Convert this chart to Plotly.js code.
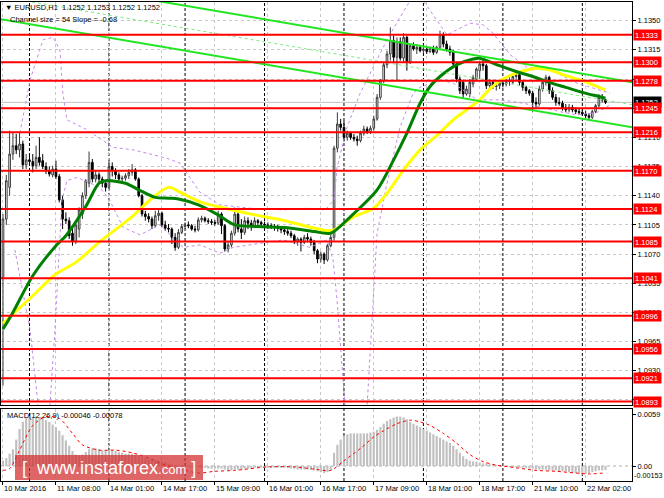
<!DOCTYPE html>
<html><head><meta charset="utf-8">
<script src="https://cdn.plot.ly/plotly-3.0.1.min.js"></script>
<style>html,body{margin:0;padding:0;background:#fff}#c{width:664px;height:498px}</style>
</head><body><div id="c"></div>
<script>
// ---- EURUSD H1 candles (10 Mar 16:00 .. 22 Mar 2016) ----
const open = [
1.1042,1.1112,1.1150,1.1190,1.1200,1.1195,1.1202,1.1177,1.1183,1.1181,
1.1176,1.1186,1.1182,1.1175,1.1170,1.1165,1.1172,1.1163,1.1135,1.1112,
1.1110,1.1095,1.1085,1.1100,1.1118,1.1140,1.1155,1.1180,1.1160,1.1165,
1.1160,1.1155,1.1150,1.1175,1.1170,1.1165,1.1160,1.1161,1.1164,1.1168,
1.1171,1.1160,1.1140,1.1118,1.1115,1.1112,1.1104,1.1116,1.1119,1.1105,
1.1101,1.1100,1.1090,1.1078,1.1096,1.1103,1.1105,1.1104,1.1100,1.1099,
1.1111,1.1113,1.1110,1.1109,1.1108,1.1107,1.1118,1.1104,1.1076,1.1081,
1.1095,1.1118,1.1100,1.1096,1.1110,1.1107,1.1104,1.1110,1.1108,1.1106,
1.1105,1.1104,1.1103,1.1102,1.1101,1.1099,1.1097,1.1095,1.1092,1.1085,
1.1088,1.1084,1.1090,1.1088,1.1084,1.1074,1.1064,1.1070,1.1063,1.1080,
1.1090,1.1197,1.1226,1.1222,1.1210,1.1215,1.1210,1.1208,1.1206,1.1215,
1.1220,1.1217,1.1221,1.1232,1.1258,1.1278,1.1297,1.1310,1.1326,1.1306,
1.1325,1.1305,1.1330,1.1300,1.1320,1.1316,1.1318,1.1314,1.1316,1.1313,
1.1317,1.1312,1.1318,1.1333,1.1322,1.1316,1.1312,1.1298,1.1280,1.1276,
1.1262,1.1262,1.1274,1.1280,1.1290,1.1298,1.1296,1.1272,1.1276,1.1271,
1.1272,1.1275,1.1274,1.1277,1.1276,1.1283,1.1285,1.1276,1.1270,1.1266,
1.1263,1.1252,1.1250,1.1268,1.1276,1.1282,1.1266,1.1258,1.1252,1.1251,
1.1245,1.1243,1.1246,1.1243,1.1241,1.1240,1.1238,1.1236,1.1234,1.1241,
1.1248,1.1258,1.1255];
const high = [
1.1118,1.1165,1.1218,1.1216,1.1214,1.1216,1.1206,1.1190,1.1188,1.1190,
1.1200,1.1210,1.1190,1.1180,1.1175,1.1176,1.1182,1.1166,1.1140,1.1120,
1.1114,1.1102,1.1108,1.1126,1.1144,1.1160,1.1193,1.1184,1.1170,1.1168,
1.1163,1.1158,1.1183,1.1180,1.1173,1.1168,1.1164,1.1167,1.1172,1.1178,
1.1173,1.1162,1.1142,1.1122,1.1119,1.1115,1.1122,1.1124,1.1121,1.1110,
1.1106,1.1102,1.1095,1.1100,1.1106,1.1108,1.1109,1.1106,1.1104,1.1114,
1.1116,1.1115,1.1113,1.1112,1.1111,1.1122,1.1120,1.1106,1.1085,1.1098,
1.1126,1.1122,1.1112,1.1115,1.1114,1.1111,1.1114,1.1112,1.1110,1.1109,
1.1108,1.1107,1.1106,1.1105,1.1103,1.1102,1.1100,1.1098,1.1094,1.1090,
1.1090,1.1093,1.1095,1.1091,1.1087,1.1076,1.1073,1.1072,1.1082,1.1093,
1.1200,1.1240,1.1232,1.1230,1.1218,1.1217,1.1214,1.1212,1.1218,1.1224,
1.1223,1.1224,1.1236,1.1262,1.1280,1.1300,1.1314,1.1342,1.1332,1.1330,
1.1330,1.1335,1.1332,1.1322,1.1324,1.1322,1.1321,1.1320,1.1319,1.1319,
1.1320,1.1320,1.1338,1.1336,1.1326,1.1320,1.1315,1.1300,1.1283,1.1279,
1.1272,1.1280,1.1285,1.1294,1.1302,1.1305,1.1298,1.1280,1.1278,1.1276,
1.1278,1.1278,1.1280,1.1282,1.1285,1.1288,1.1287,1.1278,1.1272,1.1268,
1.1266,1.1258,1.1272,1.1280,1.1285,1.1284,1.1270,1.1262,1.1258,1.1254,
1.1250,1.1250,1.1249,1.1246,1.1245,1.1243,1.1242,1.1239,1.1243,1.1250,
1.1262,1.1262,1.1256];
const low = [
1.0912,1.1105,1.1140,1.1183,1.1190,1.1186,1.1172,1.1172,1.1176,1.1168,
1.1172,1.1176,1.1172,1.1166,1.1163,1.1162,1.1160,1.1132,1.1100,1.1106,
1.1088,1.1080,1.1082,1.1090,1.1112,1.1136,1.1150,1.1156,1.1156,1.1155,
1.1150,1.1145,1.1148,1.1163,1.1160,1.1158,1.1157,1.1158,1.1160,1.1164,
1.1158,1.1138,1.1115,1.1110,1.1108,1.1100,1.1102,1.1110,1.1102,1.1098,
1.1096,1.1082,1.1074,1.1076,1.1094,1.1100,1.1101,1.1098,1.1096,1.1097,
1.1108,1.1108,1.1106,1.1105,1.1104,1.1105,1.1094,1.1073,1.1072,1.1078,
1.1092,1.1096,1.1088,1.1093,1.1100,1.1098,1.1101,1.1104,1.1102,1.1102,
1.1100,1.1100,1.1098,1.1097,1.1095,1.1093,1.1092,1.1089,1.1082,1.1080,
1.1073,1.1082,1.1084,1.1080,1.1070,1.1059,1.1060,1.1058,1.1061,1.1078,
1.1086,1.1192,1.1218,1.1205,1.1206,1.1207,1.1205,1.1200,1.1204,1.1212,
1.1214,1.1214,1.1218,1.1230,1.1255,1.1275,1.1293,1.1302,1.1300,1.1278,
1.1302,1.1300,1.1290,1.1298,1.1314,1.1310,1.1312,1.1311,1.1310,1.1311,
1.1309,1.1310,1.1316,1.1318,1.1313,1.1308,1.1295,1.1276,1.1262,1.1256,
1.1260,1.1258,1.1270,1.1277,1.1280,1.1290,1.1268,1.1268,1.1268,1.1266,
1.1268,1.1270,1.1271,1.1272,1.1274,1.1278,1.1272,1.1266,1.1262,1.1260,
1.1241,1.1244,1.1248,1.1265,1.1272,1.1262,1.1255,1.1248,1.1248,1.1242,
1.1240,1.1240,1.1240,1.1238,1.1237,1.1236,1.1233,1.1231,1.1232,1.1239,
1.1246,1.1252,1.1250];
const close = [
1.1112,1.1158,1.1190,1.1200,1.1195,1.1202,1.1177,1.1183,1.1181,1.1176,
1.1186,1.1180,1.1175,1.1170,1.1166,1.1172,1.1163,1.1135,1.1112,1.1110,
1.1092,1.1085,1.1105,1.1123,1.1140,1.1158,1.1180,1.1160,1.1165,1.1160,
1.1155,1.1150,1.1175,1.1170,1.1165,1.1160,1.1161,1.1164,1.1168,1.1171,
1.1160,1.1140,1.1118,1.1115,1.1112,1.1104,1.1116,1.1119,1.1105,1.1101,
1.1100,1.1090,1.1078,1.1096,1.1103,1.1105,1.1104,1.1100,1.1099,1.1111,
1.1113,1.1110,1.1109,1.1108,1.1107,1.1118,1.1104,1.1076,1.1081,1.1095,
1.1118,1.1100,1.1096,1.1110,1.1107,1.1104,1.1110,1.1108,1.1106,1.1105,
1.1104,1.1103,1.1102,1.1101,1.1099,1.1097,1.1095,1.1092,1.1085,1.1088,
1.1084,1.1090,1.1088,1.1084,1.1074,1.1064,1.1070,1.1063,1.1080,1.1090,
1.1197,1.1226,1.1222,1.1210,1.1215,1.1210,1.1208,1.1206,1.1215,1.1220,
1.1217,1.1221,1.1232,1.1258,1.1278,1.1297,1.1310,1.1326,1.1306,1.1325,
1.1305,1.1330,1.1300,1.1320,1.1316,1.1318,1.1314,1.1316,1.1313,1.1317,
1.1312,1.1318,1.1333,1.1322,1.1316,1.1312,1.1298,1.1280,1.1266,1.1262,
1.1268,1.1276,1.1282,1.1292,1.1298,1.1296,1.1272,1.1276,1.1271,1.1272,
1.1275,1.1274,1.1277,1.1279,1.1283,1.1285,1.1276,1.1270,1.1266,1.1263,
1.1252,1.1250,1.1268,1.1276,1.1282,1.1266,1.1258,1.1252,1.1251,1.1245,
1.1243,1.1246,1.1243,1.1241,1.1240,1.1238,1.1236,1.1234,1.1241,1.1248,
1.1258,1.1255,1.1252];

// ---- moving averages (at bar indices) ----
const maGreenIdx = [0,3,9,16,19,25,29,31,37,41,46,50,53,59,65,70,77,87,94,99,105,113,118,122,126,129,132,137,142,144,150,155,160,165,170,175,180,182];
const maGreenVal = [1.0980,1.1000,1.1044,1.1080,1.1092,1.1127,1.1155,1.1158,1.1155,1.1147,1.1138,1.1137,1.1136,1.1129,1.1117,1.1105,1.1103,1.1101,1.1097,1.1095,1.1115,1.1147,1.1183,1.1215,1.1251,1.1271,1.1283,1.1297,1.1304,1.1305,1.1296,1.1289,1.1283,1.1276,1.1270,1.1264,1.1259,1.1257];
const maYellowIdx = [0,9,16,22,29,39,45,50,54,60,68,76,84,92,98,100,106,112,116,121,126,131,136,140,144,147,151,155,161,165,170,175,180,182];
const maYellowVal = [1.0987,1.1020,1.1046,1.1060,1.1084,1.1115,1.1137,1.1150,1.1143,1.1132,1.1124,1.1117,1.1111,1.1103,1.1098,1.1099,1.1115,1.1125,1.1143,1.1171,1.1195,1.1212,1.1231,1.1243,1.1255,1.1268,1.1280,1.1287,1.1293,1.1291,1.1284,1.1278,1.1270,1.1267];

// ---- Bollinger-style dotted bands ----
const bbUpIdx = [5.1,8.2,12.1,15.1,17.2,18.1,19.3,25.4,33.2,39.3,49.5,53.5,59.5,65.6,74.6,84.6,91.8,97.3,100,100.9,103.9,107.9,111.8,116,119.9,123.9,127.5,131.1,134.1,138.1,141.1,145,148,153.2,158.3,165.3,173.4,183.4];
const bbUpVal = [1.1215,1.1279,1.1327,1.1330,1.1315,1.1263,1.1231,1.1219,1.1198,1.1195,1.1185,1.1179,1.1144,1.1129,1.1125,1.1123,1.1125,1.1123,1.1135,1.1174,1.1222,1.1263,1.1294,1.1327,1.1354,1.1380,1.1371,1.1351,1.1333,1.1341,1.1347,1.1345,1.1335,1.1309,1.1294,1.1291,1.1275,1.1263];
const bbLoIdx = [3.6,8.2,10.6,12,14.2,15.7,17.8,19.3,22.4,29.3,32.3,36.3,41.4,47.4,54.4,59.5,65.6,69.5,84.6,92.7,97.9,99.7,100.9,103.3,105,110,113,116,119.9,123.9,126,132,136,143.2,150.2,157.1,169.2,173.4,179.5,183.4];
const bbLoVal = [1.1075,1.0979,1.0889,1.0850,1.0889,1.0979,1.1134,1.1158,1.1162,1.1150,1.1134,1.1102,1.1093,1.1105,1.1078,1.1081,1.1071,1.1078,1.1087,1.1078,1.1087,1.1063,1.1015,1.0889,1.0850,1.0889,1.1095,1.1155,1.1222,1.1263,1.1270,1.1279,1.1275,1.1255,1.1255,1.1251,1.1240,1.1237,1.1240,1.1249];

// ---- MACD(12,26,9) ----
const macdHist = [
0.0006,0.0009,0.0014,0.0019,0.0030,0.0042,0.0050,0.0055,0.0056,0.0056,
0.0056,0.0055,0.0054,0.0052,0.0050,0.0047,0.0044,0.0040,0.0035,0.0029,
0.0023,0.0017,0.0013,0.0012,0.0013,0.0016,0.0019,0.0020,0.0020,0.0019,
0.0018,0.0017,0.0018,0.0018,0.0017,0.0016,0.0015,0.0014,0.0014,0.0014,
0.0013,0.0012,0.0010,0.0009,0.0008,0.0007,0.0007,0.0006,0.0005,0.0004,
0.0003,0.0002,0.0001,0.0001,0.0001,0.0000,0.0000,-0.0001,-0.0001,-0.0001,
-0.0002,-0.0002,-0.0003,-0.0003,-0.0003,-0.0003,-0.0003,-0.0004,-0.0005,-0.0005,
-0.0004,-0.0004,-0.0004,-0.0003,-0.0003,-0.0003,-0.0002,-0.0002,-0.0002,-0.0002,
-0.0002,-0.0002,-0.0002,-0.0002,-0.0002,-0.0002,-0.0002,-0.0003,-0.0003,-0.0004,
-0.0004,-0.0004,-0.0004,-0.0004,-0.0005,-0.0006,-0.0007,-0.0008,-0.0007,-0.0005,
0.0015,0.0024,0.0030,0.0034,0.0036,0.0037,0.0037,0.0037,0.0037,0.0037,
0.0037,0.0038,0.0039,0.0041,0.0044,0.0048,0.0051,0.0053,0.0055,0.0056,
0.0056,0.0055,0.0053,0.0050,0.0048,0.0046,0.0044,0.0042,0.0040,0.0038,
0.0036,0.0034,0.0032,0.0030,0.0028,0.0026,0.0023,0.0019,0.0015,0.0011,
0.0008,0.0006,0.0005,0.0005,0.0004,0.0003,0.0003,0.0002,0.0002,0.0001,
0.0001,0.0000,0.0000,-0.0001,-0.0001,-0.0001,-0.0002,-0.0002,-0.0002,-0.0003,
-0.0003,-0.0004,-0.0004,-0.0004,-0.0004,-0.0005,-0.0005,-0.0005,-0.0006,-0.0006,
-0.0006,-0.0007,-0.0007,-0.0008,-0.0009,-0.0010,-0.0009,-0.0008,-0.0007,-0.0006,
-0.0005,-0.0005,-0.00046];
const sigIdx = [0,2,5,9,13,17,21,24,29,34,39,44,49,54,59,64,70,80,88,95,99,103,108,112,115,119,123,126,129,133,137,141,145,149,155,161,167,173,177,182];
const sigVal = [-0.0005,-0.0003,0.0018,0.0046,0.0056,0.0054,0.0037,0.0024,0.0018,0.0018,0.0015,0.0009,0.0001,-0.0004,-0.0008,-0.0006,-0.0005,-0.0001,-0.0001,-0.0004,-0.0005,0.0006,0.0020,0.0033,0.0040,0.0048,0.0052,0.0050,0.0046,0.0037,0.0026,0.0013,0.0005,0.0001,-0.0002,-0.0005,-0.0006,-0.0008,-0.0009,-0.00078];

// ---- axis labels, levels, channel ----
const timeTickIdx = [0,16,32,48,64,80,96,112,128,144,160,176];
const timeTickText = ['10 Mar 2016','11 Mar 08:00','14 Mar 01:00','14 Mar 17:00','15 Mar 09:00','16 Mar 01:00','16 Mar 17:00','17 Mar 09:00','18 Mar 01:00','18 Mar 17:00','21 Mar 10:00','22 Mar 02:00'];
const daySepIdx = [8,32,55,79,103,127,151,175];
const priceTicks = [1.1350,1.1315,1.1280,1.1245,1.1210,1.1175,1.1140,1.1105,1.1070,1.1035,1.1000,1.0965,1.0930,1.0895];
const levels = [1.1333,1.1300,1.1278,1.1245,1.1216,1.1170,1.1124,1.1085,1.1041,1.0996,1.0956,1.0921,1.0893];
const lastBid = 1.1252;
const channelSizePips = 54, channelSlopePips = -0.68, channelLowerAt0 = 1.13514;
const header = '\u25BC EURUSD,H1  1.1252 1.1253 1.1252 1.1252';
const headerChannel = 'Channel size = 54 Slope = -0.68';
const macdLabel = 'MACD(12,26,9) -0.00046 -0.00078';

// ---- build ----
const W = 664, H = 498;
const px = x => x / W, py = y => 1 - y / H;
const idx = close.map((_, i) => i);
const FONT = 'Liberation Sans, Arial, sans-serif';

const traces = [
  {type:'candlestick', x:idx, open, high, low, close, xaxis:'x', yaxis:'y',
   increasing:{line:{color:'#3a3a3a', width:1}, fillcolor:'#ffffff'},
   decreasing:{line:{color:'#000000', width:1}, fillcolor:'#000000'},
   whiskerwidth:0, hoverinfo:'skip', showlegend:false},
  {type:'scatter', mode:'lines', x:bbUpIdx, y:bbUpVal, xaxis:'x', yaxis:'y',
   line:{color:'#c688ea', width:1, dash:'dot'}, hoverinfo:'skip'},
  {type:'scatter', mode:'lines', x:bbLoIdx, y:bbLoVal, xaxis:'x', yaxis:'y',
   line:{color:'#c688ea', width:1, dash:'dot'}, hoverinfo:'skip'},
  {type:'scatter', mode:'lines', x:maYellowIdx, y:maYellowVal, xaxis:'x', yaxis:'y',
   line:{color:'#ffff00', width:3, shape:'spline', smoothing:0.8}, hoverinfo:'skip'},
  {type:'scatter', mode:'lines', x:maGreenIdx, y:maGreenVal, xaxis:'x', yaxis:'y',
   line:{color:'#008000', width:3, shape:'spline', smoothing:0.8}, hoverinfo:'skip'},
  {type:'bar', x:idx, y:macdHist, xaxis:'x2', yaxis:'y2',
   marker:{color:'#c0c0c0', line:{width:0}}, hoverinfo:'skip'},
  {type:'scatter', mode:'lines', x:sigIdx, y:sigVal, xaxis:'x2', yaxis:'y2',
   line:{color:'#ff0000', width:1, dash:'dot', shape:'spline', smoothing:0.8}, hoverinfo:'skip'}
];

const shapes = [];
// day separators
daySepIdx.forEach(d => shapes.push({type:'line', xref:'x', yref:'paper', x0:d, x1:d, y0:py(481), y1:py(2),
  line:{color:'#000', width:1, dash:'3px,2px'}, layer:'below'}));
// channel lines
const chX0 = -2, chX1 = 192;
const chP = (base, i) => base + channelSlopePips * 1e-4 * i;
[[0,'solid','#22e622',2],[channelSizePips/2,'dot','#7ee87e',1],[channelSizePips,'solid','#22e622',2]].forEach(([off,dash,col,w]) => {
  const b = channelLowerAt0 + off * 1e-4;
  shapes.push({type:'line', xref:'x', yref:'y', x0:chX0, x1:chX1, y0:chP(b,chX0), y1:chP(b,chX1),
    line:{color:col, width:w, dash:dash}, layer:'above'});
});
// bid line
shapes.push({type:'line', xref:'paper', yref:'y', x0:px(1), x1:px(632), y0:lastBid, y1:lastBid,
  line:{color:'#c0c0c0', width:1}, layer:'below'});
// red levels
levels.forEach(v => shapes.push({type:'line', xref:'paper', yref:'y', x0:px(1), x1:px(632), y0:v, y1:v,
  line:{color:'#ff0000', width:2}, layer:'above'}));
// MACD zero level
shapes.push({type:'line', xref:'paper', yref:'y2', x0:px(1), x1:px(632), y0:0, y1:0,
  line:{color:'#b0b0b0', width:1, dash:'dot'}, layer:'below'});
// watermark box
shapes.push({type:'rect', xref:'paper', yref:'paper', x0:px(15), x1:px(203), y0:py(480), y1:py(455),
  fillcolor:'rgba(210,48,48,0.74)', line:{width:0}, layer:'above'});

const annotations = [
  {xref:'paper', yref:'paper', x:px(3), y:py(8), xanchor:'left', yanchor:'middle', showarrow:false,
   text:header, font:{family:FONT, size:7.5, color:'#000'}},
  {xref:'paper', yref:'paper', x:px(8), y:py(19), xanchor:'left', yanchor:'middle', showarrow:false,
   text:headerChannel, font:{family:FONT, size:7.5, color:'#000'}},
  {xref:'paper', yref:'paper', x:px(5), y:py(415), xanchor:'left', yanchor:'middle', showarrow:false,
   text:macdLabel, font:{family:FONT, size:7.5, color:'#000'}},
  {xref:'paper', yref:'paper', x:px(632), y:py(475), xanchor:'left', yanchor:'middle', showarrow:false,
   text:'-0.00153', font:{family:FONT, size:7.2, color:'#000'}},
  {xref:'paper', yref:'y', x:px(633), y:lastBid, xanchor:'left', yanchor:'middle', showarrow:false,
   text:lastBid.toFixed(4), bgcolor:'#000', font:{family:FONT, size:7.5, color:'#fff'}, width:25, height:8, borderpad:1, align:'left'}
];
levels.forEach(v => annotations.push({xref:'paper', yref:'y', x:px(633), y:v, xanchor:'left', yanchor:'middle',
  showarrow:false, text:v.toFixed(4), bgcolor:'#ff0000', font:{family:FONT, size:7.5, color:'#fff'},
  width:25, height:8, borderpad:1, align:'left'}));
// time labels, left-aligned at their tick like the terminal does
timeTickIdx.forEach((t, k) => annotations.push({xref:'x2', yref:'paper', x:t, y:py(488.5), xanchor:'left', yanchor:'middle',
  showarrow:false, text:timeTickText[k], font:{family:FONT, size:7.5, color:'#000'}, xshift:-1}));
annotations.push({xref:'paper', yref:'paper', x:px(109), y:py(468), xanchor:'center', yanchor:'middle', showarrow:false,
  text:'[&nbsp;&nbsp;www.instaforex<span style="font-size:13px">.com</span>&nbsp;]',
  font:{family:FONT, size:18, color:'#ffffff'}});

const grid = {showgrid:true, gridcolor:'#c8c8c8', griddash:'3px,3px', gridwidth:1};
const layout = {
  width:W, height:H, margin:{l:0, r:0, t:0, b:0},
  paper_bgcolor:'#ffffff', plot_bgcolor:'#ffffff', showlegend:false,
  font:{family:FONT, size:7.5, color:'#000'}, bargap:0.35,
  xaxis:Object.assign({domain:[px(1), px(632)], range:[-0.6,190], anchor:'y', tickvals:timeTickIdx,
    showticklabels:false, ticks:'', zeroline:false, showline:true, linecolor:'#000', mirror:true,
    rangeslider:{visible:false}, fixedrange:true}, grid),
  yaxis:Object.assign({domain:[py(405), py(2)], range:[1.08889,1.13724], side:'right', anchor:'x',
    tickvals:priceTicks, ticktext:priceTicks.map(v => v.toFixed(4)), ticks:'outside', ticklen:3,
    tickcolor:'#000', zeroline:false, showline:true, linecolor:'#000', mirror:true,
    tickfont:{family:FONT, size:7.5, color:'#000'}, fixedrange:true}, grid),
  xaxis2:Object.assign({domain:[px(1), px(632)], range:[-0.6,190], anchor:'y2', tickvals:timeTickIdx,
    showticklabels:false, ticks:'outside', ticklen:3, tickcolor:'#000',
    zeroline:false, showline:true, linecolor:'#000', mirror:true, fixedrange:true}, grid),
  yaxis2:{domain:[py(481), py(409)], range:[-0.001702,0.006467], side:'right', anchor:'x2',
    tickvals:[0.0059,0], ticktext:['0.0059','0.00'], ticks:'outside', ticklen:3, tickcolor:'#000',
    showgrid:false, zeroline:false, showline:true, linecolor:'#000', mirror:true,
    tickfont:{family:FONT, size:7.5, color:'#000'}, fixedrange:true},
  shapes, annotations
};
Plotly.newPlot('c', traces, layout, {staticPlot:true, displayModeBar:false});
</script>
</body></html>
